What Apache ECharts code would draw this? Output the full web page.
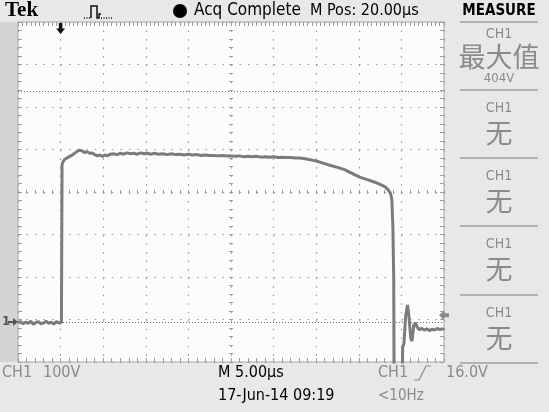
<!DOCTYPE html>
<html><head><meta charset="utf-8">
<script src="https://cdn.jsdelivr.net/npm/echarts@6/dist/echarts.min.js"></script>
<style>html,body{margin:0;padding:0;background:#e8e8e8}#c{width:549px;height:412px}</style>
</head><body><div id="c"></div>
<script>
// ---- data (time in µs, CH1 voltage in V) ----
const timeUs = [0,0.3,0.6,0.9,1.2,1.5,1.8,2.1,2.4,2.7,3.0,3.3,3.6,3.9,4.2,4.5,4.8,5.1,5.15,5.17,
 5.3,5.5,5.7,5.9,6.1,6.3,6.5,6.7,6.9,7.1,7.3,7.5,7.8,8.1,8.4,8.7,9.0,9.3,9.6,9.9,10.2,10.5,10.8,
 11.2,11.6,12.0,12.4,12.8,13.2,13.6,14.0,14.4,14.8,15.2,15.6,16.0,16.5,17.0,17.5,18.0,18.5,19.0,19.5,
 20.0,20.5,21.0,21.5,22.0,22.5,23.0,23.5,24.0,24.5,25.0,25.5,26.0,26.5,27.0,27.5,28.0,28.5,29.0,29.5,
 30.0,30.5,31.0,31.5,32.0,32.5,33.0,33.5,34.0,34.5,35.0,35.8,36.6,37.5,38.4,39.2,40.1,41.0,41.9,42.5,
 43.1,43.4,43.7,43.85,43.9,43.95,44.0,44.05,44.1,44.15,45.05,45.15,45.3,45.5,45.72,45.9,46.1,46.25,
 46.45,46.65,46.85,47.1,47.4,47.7,48.0,48.3,48.6,48.9,49.2,49.5,49.8,50.0];
const volts = [-2,1,-4,0,-3,2,-5,-1,1,-4,-2,2,-3,0,-5,1,-2,-1,-1,370,
 378,383,381,388,386,392,395,398,402,404,400,403,399,401,397,398,394,391,393,390,393,391,395,
 396,394,397,395,398,396,397,395,398,396,397,395,397,395,396,394,396,394,395,393,
 395,393,394,392,393,392,392,391,392,391,391,390,391,389,390,389,390,388,389,388,
 389,387,388,387,387,386,386,385,383,381,379,374,369,364,358,350,341,335,329,324,
 318,312,304,292,280,250,224,220,100,-200,-200,-60,-50,15,40,10,-38,-45,
 -8,-2,-12,-18,-15,-19,-16,-20,-17,-19,-15,-18,-16,-18];
const triggerTimeUs = 5;
const triggerLevelV = 16;
const refLevelsV = [0, 542];
const vMin = -94, vMax = 706;     // 100 V/div, 8 divisions
const tMin = 0, tMax = 50;        // 5 µs/div, 10 divisions

const topTexts = ['Tek','Acq Complete','M Pos: 20.00µs','MEASURE'];
const bottomTexts = ['CH1','100V','M 5.00µs','CH1','16.0V','17-Jun-14 09:19','<10Hz'];
const measureCh = ['CH1','CH1','CH1','CH1','CH1'];
const measureName = ['最大值','无','无','无','无'];
const measureValue = ['404V','','','',''];

const NARROW = '"Liberation Sans Narrow","DejaVu Sans Condensed","Arial Narrow",sans-serif';
const CJK = '"Noto Sans CJK SC",sans-serif';

const chart = echarts.init(document.getElementById('c'), null, {renderer:'canvas'});
const P = {left:18, top:22, width:426, height:340};

const dotted = {color:'#9e9e9e', width:1.2, type:[1.6,6.92]};
const tickLine = {color:'#9c9c9c', width:1};

const grids = [
  {left:P.left, top:P.top, width:P.width, height:P.height, show:true, backgroundColor:'#fcfcfc', borderColor:'#a8a8a8', borderWidth:1, z:0},
  {left:P.left, top:P.top, width:P.width, height:P.height},
  {left:P.left, top:P.top+P.height/2-2, width:P.width, height:4},
  {left:P.left+P.width/2-2, top:P.top, width:4, height:P.height},
  {left:P.left, top:P.top, width:P.width, height:4},
  {left:P.left, top:P.top+P.height-4, width:P.width, height:4},
  {left:P.left, top:P.top, width:4, height:P.height},
  {left:P.left+P.width-4, top:P.top, width:4, height:P.height}
];
function divX(gi, interval, showSplit, ls){ return {gridIndex:gi, type:'value', min:-5, max:5, interval:interval,
  axisLine:{show:false}, axisTick:{show:false}, axisLabel:{show:false}, splitLine:{show:showSplit, lineStyle:ls}}; }
function divY(gi, interval, showSplit, ls){ return {gridIndex:gi, type:'value', min:-4, max:4, interval:interval,
  axisLine:{show:false}, axisTick:{show:false}, axisLabel:{show:false}, splitLine:{show:showSplit, lineStyle:ls}}; }

const xAxes = [
  divX(0,1,true,dotted),
  {gridIndex:1, type:'value', min:tMin, max:tMax, show:false},
  divX(2,0.2,true,tickLine),
  divX(3,1,false),
  divX(4,0.1,true,tickLine),
  divX(5,0.2,true,tickLine),
  divX(6,1,false),
  divX(7,1,false)
];
const yAxes = [
  divY(0,1,true,dotted),
  {gridIndex:1, type:'value', min:vMin, max:vMax, show:false},
  divY(2,1,false),
  divY(3,0.2,true,tickLine),
  divY(4,1,false),
  divY(5,1,false),
  divY(6,0.2,true,tickLine),
  divY(7,0.2,true,tickLine)
];

const traceData = timeUs.map((t,i)=>[t, volts[i]]);

chart.setOption({
  animation:false,
  backgroundColor:'#e8e8e8',
  grid:grids, xAxis:xAxes, yAxis:yAxes,
  series:[{
    type:'line', xAxisIndex:1, yAxisIndex:1, data:traceData, showSymbol:false, clip:true,
    lineStyle:{color:'#7b7b7b', width:3}, z:5,
    markLine:{silent:true, symbol:'none', label:{show:false},
      lineStyle:{color:'#6e6e6e', width:1, type:[1,2]},
      data: refLevelsV.map(v=>({yAxis:v}))},
    markPoint:{silent:true, label:{show:false}, data:[
      {coord:[triggerTimeUs, vMax], symbol:'path://M3,0 L7,0 L7,6 L10,6 L5,12 L0,6 L3,6 Z', symbolSize:[9,11], symbolOffset:[0,6.5], itemStyle:{color:'#111'}},
      {coord:[tMax, triggerLevelV], symbol:'path://M0,5 L5,0 L5,3 L10,3 L10,7 L5,7 L5,10 Z', symbolSize:[10,10], symbolOffset:[0,0], itemStyle:{color:'#8a8a8a'}}
    ]}
  }]
});

// overlay texts & decorations
const g0 = chart.convertToPixel({gridIndex:1}, [tMin, 0]);
const gy = g0[1];
const graphic = [
  {type:'rect', shape:{x:0,y:P.top,width:P.left,height:P.height}, style:{fill:'#d4d4d4'}, z:-10},
  {type:'text', x:5, y:11, style:{text:topTexts[0], font:'bold 21px "Liberation Serif","DejaVu Serif",serif', fill:'#000', verticalAlign:'middle'}},
  {type:'polyline', shape:{points:[[91,18],[91,6],[97,6],[97,18],[99,18],[99,14],[101,14]]}, style:{stroke:'#111', lineWidth:1.5, fill:null}},
  {type:'polyline', shape:{points:[[84,18],[91,18]]}, style:{stroke:'#111', lineWidth:1.3, lineDash:[1,1.5], fill:null}},
  {type:'polyline', shape:{points:[[101,18],[112,18]]}, style:{stroke:'#111', lineWidth:1.3, lineDash:[1,1.5], fill:null}},
  {type:'circle', shape:{cx:180, cy:11, r:7}, style:{fill:'#000'}},
  {type:'text', x:194, y:11, style:{text:topTexts[1], font:'17px '+NARROW, fill:'#000', verticalAlign:'middle'}},
  {type:'text', x:310, y:11, style:{text:topTexts[2], font:'16px '+NARROW, fill:'#000', verticalAlign:'middle'}},
  {type:'text', x:499, y:11, style:{text:topTexts[3], font:'bold 15px '+NARROW, fill:'#000', align:'center', verticalAlign:'middle'}},
  // ground marker
  {type:'text', x:2, y:gy, style:{text:'1', font:'bold 13px '+NARROW, fill:'#555', verticalAlign:'middle'}},
  {type:'polygon', shape:{points:[[8,gy-1],[13,gy-1],[13,gy-4],[18,gy],[13,gy+4],[13,gy+1],[8,gy+1]]}, style:{fill:'#555'}},
  // bottom
  {type:'text', x:2, y:373, style:{text:bottomTexts[0], font:'16px '+NARROW, fill:'#8a8a8a', verticalAlign:'middle'}},
  {type:'text', x:43, y:373, style:{text:bottomTexts[1], font:'16px '+NARROW, fill:'#8a8a8a', verticalAlign:'middle'}},
  {type:'text', x:218, y:373, style:{text:bottomTexts[2], font:'16px '+NARROW, fill:'#000', verticalAlign:'middle'}},
  {type:'text', x:378, y:373, style:{text:bottomTexts[3], font:'16px '+NARROW, fill:'#8a8a8a', verticalAlign:'middle'}},
  {type:'polyline', shape:{points:[[414,380],[419,380],[426,366],[431,366]]}, style:{stroke:'#8a8a8a', lineWidth:1.2, fill:null}},
  {type:'text', x:446, y:373, style:{text:bottomTexts[4], font:'16px '+NARROW, fill:'#8a8a8a', verticalAlign:'middle'}},
  {type:'text', x:218, y:396, style:{text:bottomTexts[5], font:'16px '+NARROW, fill:'#000', verticalAlign:'middle'}},
  {type:'text', x:378, y:396, style:{text:bottomTexts[6], font:'15px '+NARROW, fill:'#8a8a8a', verticalAlign:'middle'}}
];
const secTops = [22, 90, 158, 226, 295];
[22,90,158,226,295,363].forEach(y=>graphic.push({type:'line', shape:{x1:460,y1:y,x2:538,y2:y}, style:{stroke:'#a0a0a0', lineWidth:1.5}}));
secTops.forEach((t,i)=>{
  if(i===0){
    graphic.push({type:'text', x:499, y:t+12, style:{text:measureCh[i], font:'14px '+NARROW, fill:'#8a8a8a', align:'center', verticalAlign:'middle'}});
    graphic.push({type:'text', x:499, y:t+35, style:{text:measureName[i], font:'27px '+CJK, fill:'#8a8a8a', align:'center', verticalAlign:'middle'}});
    graphic.push({type:'text', x:499, y:t+57, style:{text:measureValue[i], font:'13px '+NARROW, fill:'#8a8a8a', align:'center', verticalAlign:'middle'}});
  } else {
    graphic.push({type:'text', x:499, y:t+18, style:{text:measureCh[i], font:'14px '+NARROW, fill:'#8a8a8a', align:'center', verticalAlign:'middle'}});
    graphic.push({type:'text', x:499, y:t+43, style:{text:measureName[i], font:'27px '+CJK, fill:'#8a8a8a', align:'center', verticalAlign:'middle'}});
  }
});
chart.setOption({graphic:graphic});
</script></body></html>
